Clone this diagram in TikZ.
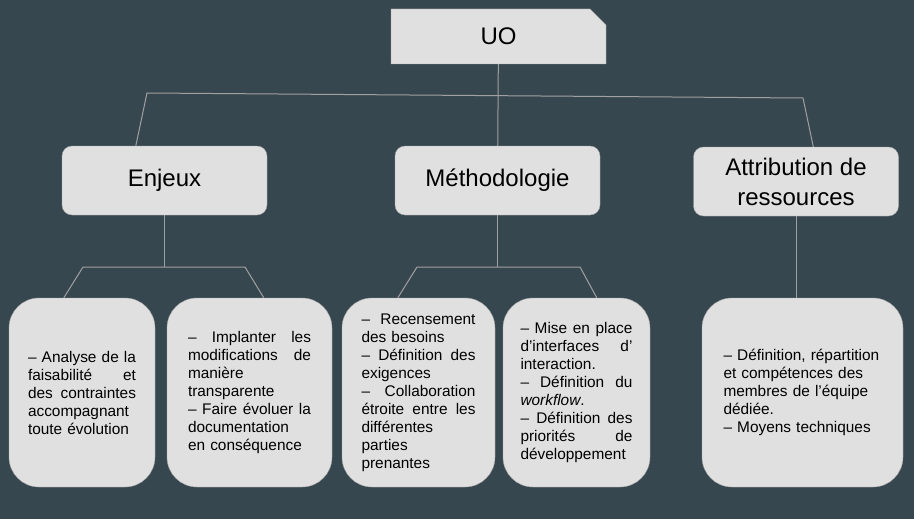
\documentclass[tikz,border=0pt]{standalone}
\usepackage{fontspec}
\setmainfont{Liberation Sans}
\usetikzlibrary{shapes.misc}

\definecolor{fond}{RGB}{55,71,79}
\definecolor{boite}{RGB}{224,224,224}
\definecolor{trait}{RGB}{160,160,160}
\newcommand{\jline}[1]{{\spaceskip=0pt\xspaceskip=0pt\makebox[\hsize][s]{#1}}}

\tikzset{
	tete/.style={draw=boite!75!black,fill=boite,rounded corners=10pt,minimum width=205pt,minimum height=69pt,inner sep=0pt,align=center,font=\fontsize{24}{30}\selectfont},
	uobox/.style={chamfered rectangle,chamfered rectangle corners=north east,chamfered rectangle xsep=8pt,chamfered rectangle ysep=8pt,draw=boite!75!black,fill=boite,minimum width=215pt,minimum height=55pt,inner sep=0pt,font=\fontsize{24}{30}\selectfont},
	feuille/.style={draw=boite!75!black,fill=boite,rounded corners=30pt,minimum height=189pt,inner sep=0pt,align=left,font=\fontsize{15.4}{18}\selectfont},
	lien/.style={draw=trait,line width=1pt}
}

\begin{document}
\begin{tikzpicture}[x=1pt,y=-1pt]
		\fill[fond] (0,0) rectangle (914,519);
		\useasboundingbox (0,0) rectangle (914,519);
		
		\node[uobox] (uo) at (498.5,36.5) {UO};
		\node[tete] (enj) at (164.5,180.5) {Enjeux};
		\node[tete] (meth) at (497.5,180.5) {Méthodologie};
		\node[tete] (attr) at (796,181.5) {Attribution de\\ressources};
		
		\node[feuille,minimum width=146pt,text width=108pt] (a1) at (82,392.5) {\jline{– Analyse de la}\\ \jline{faisabilité et}\\ \jline{des contraintes}\\ accompagnant\\ toute évolution};
		\node[feuille,minimum width=165pt,text width=123pt] (a2) at (249.5,392.5) {\jline{– Implanter les}\\ \jline{modifications de}\\ manière\\ transparente\\ \jline{– Faire évoluer la}\\ documentation\\ en conséquence};
		\node[feuille,minimum width=153pt,text width=114pt] (m1) at (418.5,392.5) {\jline{– Recensement}\\ des besoins\\ \jline{– Définition des}\\ exigences\\ \jline{– Collaboration}\\ \jline{étroite entre les}\\ différentes\\ parties\\ prenantes};
		\node[feuille,minimum width=147pt,text width=112pt] (m2) at (576.5,392.5) {\jline{– Mise en place}\\ \jline{d’interfaces d’}\\ interaction.\\ \jline{– Définition du}\\ \textit{workflow}.\\ \jline{– Définition des}\\ \jline{priorités de}\\ développement};
		\node[feuille,minimum width=201pt,text width=158pt] (r1) at (802.5,392.5) {– Définition, répartition\\ et compétences des\\ membres de l’équipe\\ dédiée.\\ – Moyens techniques};
		
		\coordinate (gauche) at (147,93);
		\coordinate (droite) at (803,98);
		\draw[lien] ([xshift=74pt]enj.north west) -- (gauche) -- (droite) -- ([xshift=120pt]attr.north west);
		\draw[lien] (uo) -- (meth);
		
		\coordinate (ej1) at (83,267);
		\coordinate (ej2) at (245,267);
		\draw[lien] (enj.south) -- (enj.south |- ej1);
		\draw[lien] ([xshift=55pt]a1.north west) -- (ej1) -- (ej2) -- ([xshift=97pt]a2.north west);
		
		\coordinate (mt1) at (417,267);
		\coordinate (mt2) at (580,267);
		\draw[lien] (meth.south) -- (meth.south |- mt1);
		\draw[lien] ([xshift=56pt]m1.north west) -- (mt1) -- (mt2) -- ([xshift=94pt]m2.north west);
		
		\draw[lien] (attr.south) -- (attr.south |- r1.north);
	\end{tikzpicture}
\end{document}
